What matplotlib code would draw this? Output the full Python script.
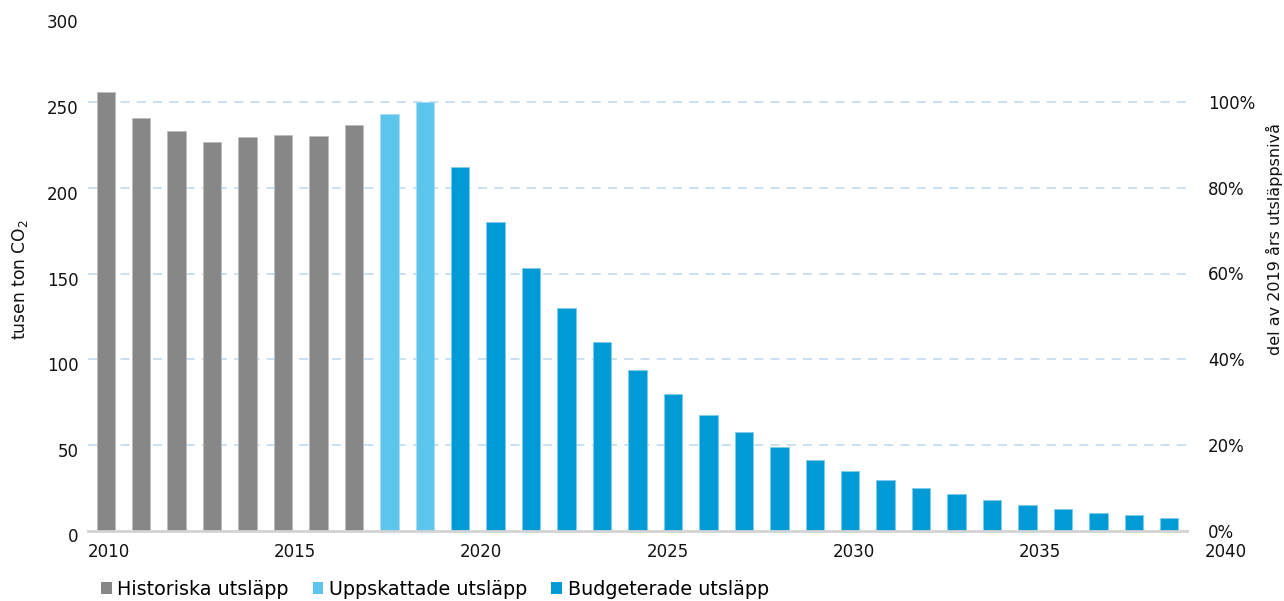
import matplotlib
matplotlib.use("Agg")
import matplotlib.pyplot as plt
from matplotlib.patches import Patch
import matplotlib.transforms as mtransforms

plt.rcParams['font.family'] = ['DejaVu Sans']

# ---- data ----
hist_years = [2010, 2011, 2012, 2013, 2014, 2015, 2016, 2017]
hist_vals = [256, 240.5, 233, 226.5, 229.5, 231, 230.5, 236.5]
est_years = [2018, 2019]
est_vals = [243, 250]
bud_years = list(range(2020, 2041))
bud_vals = [212.3, 180.2, 153.0, 129.8, 110.2, 93.6, 79.5, 67.6, 57.3, 48.5,
            40.9, 34.7, 29.5, 24.8, 21.1, 17.8, 14.9, 12.5, 10.4, 8.9, 7.3]
left_ticks = [0, 50, 100, 150, 200, 250, 300]
grid_vals = [50, 100, 150, 200, 250]
right_ticks = [0, 20, 40, 60, 80, 100]
year_labels = [2010, 2015, 2020, 2025, 2030, 2035, 2040]
legend_labels = ["Historiska utsläpp", "Uppskattade utsläpp", "Budgeterade utsläpp"]

GRAY = "#878787"
LIGHT = "#5CC5EB"
DARK = "#009BD6"
GRID = "#C6DDF2"

W, H = 1284, 601
fig = plt.figure(figsize=(W / 100, H / 100), dpi=100)
ax = fig.add_axes([88 / W, (H - 530.5) / H, 1099 / W, 514 / H])

first = hist_years[0]
bw = 0.52
ax.bar([y - first for y in hist_years], hist_vals, width=bw, color=GRAY,
       edgecolor="#BDBDBD", linewidth=0.6, zorder=3)
ax.bar([y - first for y in est_years], est_vals, width=bw, color=LIGHT,
       edgecolor="#A8DDF3", linewidth=0.6, zorder=3)
ax.bar([y - first for y in bud_years], bud_vals, width=bw, color=DARK,
       edgecolor="#7FCBEB", linewidth=0.6, zorder=3)

ax.set_xlim(-0.5, 30.5)
ax.set_ylim(0, 300)
for g in grid_vals:
    ax.axhline(g, color=GRID, linestyle=(0, (5, 4)), linewidth=1.3, zorder=1)

for s in ["top", "right", "left"]:
    ax.spines[s].set_visible(False)
ax.spines["bottom"].set_color("#D3D3D3")
ax.spines["bottom"].set_linewidth(2)
ax.spines["bottom"].set_zorder(4)
ax.set_xticks([])
ax.set_yticks(left_ticks)
ax.set_yticklabels([str(v) for v in left_ticks])
ax.tick_params(axis="y", length=0, pad=7, labelsize=12, labelcolor="#111111")
off = mtransforms.ScaledTranslation(0, -5 / 100, fig.dpi_scale_trans)
for lab in ax.get_yticklabels():
    lab.set_transform(lab.get_transform() + off)

ax2 = ax.twinx()
ax2.set_ylim(0, 120)
ax2.set_yticks(right_ticks)
ax2.set_yticklabels([f"{v}%" for v in right_ticks])
ax2.tick_params(axis="y", length=0, pad=15, labelsize=12, labelcolor="#111111")
for s in ["top", "right", "left", "bottom"]:
    ax2.spines[s].set_visible(False)

# year labels axis
axl = fig.add_axes([109 / W, (H - 530.5) / H, (1226 - 109) / W, 0.001])
axl.set_xlim(year_labels[0], year_labels[-1])
axl.set_xticks(year_labels)
axl.set_xticklabels([str(y) for y in year_labels])
axl.set_yticks([])
axl.set_frame_on(False)
axl.tick_params(axis="x", length=0, pad=9, labelsize=12, labelcolor="#111111")

fig.text(20 / W, 1 - 280 / H, "tusen ton CO$_2$", rotation=90, ha="center",
         va="center", fontsize=12.3, color="#111111")
fig.text(1274 / W, 1 - 239 / H, "del av 2019 års utsläppsnivå", rotation=90,
         ha="center", va="center", fontsize=11.5, color="#111111")

handles = [Patch(facecolor=GRAY), Patch(facecolor=LIGHT), Patch(facecolor=DARK)]
fig.legend(handles, legend_labels, ncol=3, loc="center left",
           bbox_to_anchor=(101 / W, 1 - 589.5 / H), frameon=False, fontsize=13.8,
           handlelength=0.55, handleheight=0.55, handletextpad=0.3,
           columnspacing=1.25, borderaxespad=0, borderpad=0)

fig.savefig("out.png", dpi=100)
